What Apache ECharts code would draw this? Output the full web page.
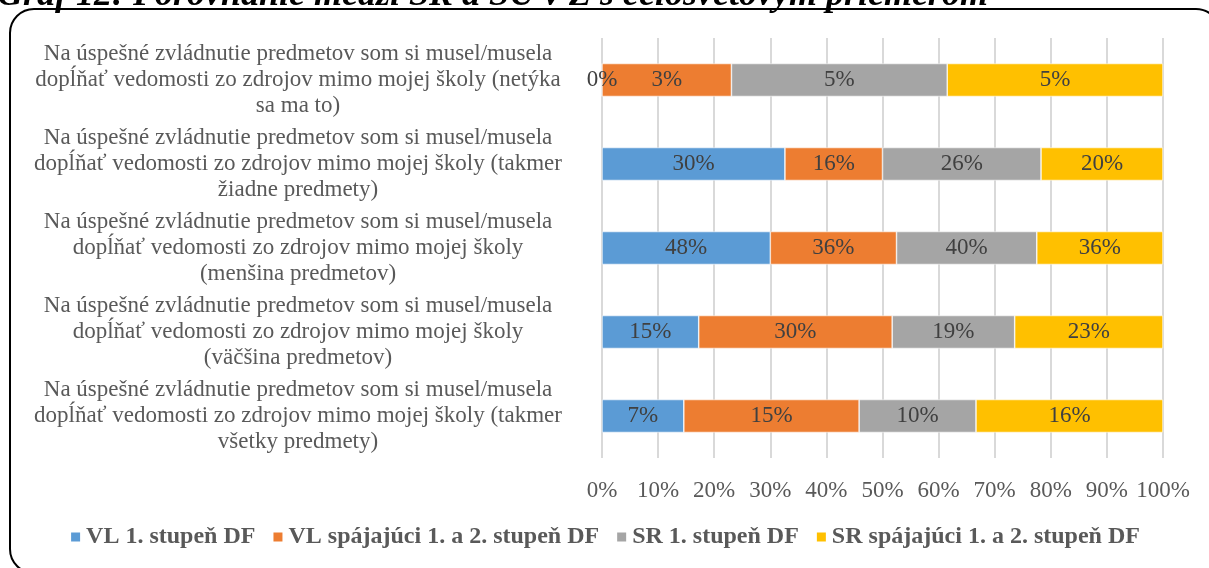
<!DOCTYPE html>
<html>
<head>
<meta charset="utf-8">
<script src="https://cdn.jsdelivr.net/npm/echarts@6/dist/echarts.min.js"></script>
<style>
  html, body { margin: 0; padding: 0; background: #fff; }
  #chart { width: 1209px; height: 568px; }
</style>
</head>
<body>
<div id="chart"></div>
<script>
const categories = [
  'Na úspešné zvládnutie predmetov som si musel/musela\ndopĺňať vedomosti zo zdrojov mimo mojej školy (netýka\nsa ma to)',
  'Na úspešné zvládnutie predmetov som si musel/musela\ndopĺňať vedomosti zo zdrojov mimo mojej školy (takmer\nžiadne predmety)',
  'Na úspešné zvládnutie predmetov som si musel/musela\ndopĺňať vedomosti zo zdrojov mimo mojej školy\n(menšina predmetov)',
  'Na úspešné zvládnutie predmetov som si musel/musela\ndopĺňať vedomosti zo zdrojov mimo mojej školy\n(väčšina predmetov)',
  'Na úspešné zvládnutie predmetov som si musel/musela\ndopĺňať vedomosti zo zdrojov mimo mojej školy (takmer\nvšetky predmety)'
]
const seriesNames = ['VL 1. stupeň DF', 'VL spájajúci 1. a 2. stupeň DF', 'SR 1. stupeň DF', 'SR spájajúci 1. a 2. stupeň DF']
const vl1 = [0, 30, 48, 15, 7]
const vlSp = [3, 16, 36, 30, 15]
const sr1 = [5, 26, 40, 19, 10]
const srSp = [5, 20, 36, 23, 16]
const xTicks = [0, 10, 20, 30, 40, 50, 60, 70, 80, 90, 100]
const colors = ['#5B9BD5', '#ED7D31', '#A5A5A5', '#FFC000']
const titleText = 'Graf 12: Porovnanie medzi SR a SU v Z s celosvetovým priemerom'

const raw = [vl1, vlSp, sr1, srSp]
// 100% stacked: each bar is the share of the row total, label keeps the raw value
const totals = categories.map((_, i) => raw.reduce((s, arr) => s + arr[i], 0))

const serif = '"Liberation Serif", "Times New Roman", serif'

const chart = echarts.init(document.getElementById('chart'))
chart.setOption({
  backgroundColor: '#fff',
  animation: false,
  graphic: [
    {
      type: 'rect',
      shape: { x: 10, y: 9, width: 1210, height: 564, r: 24 },
      style: { fill: 'none', stroke: '#000', lineWidth: 2 },
      z: 0
    },
    {
      type: 'text',
      x: -3,
      y: 14,
      style: {
        text: titleText,
        font: 'italic bold 36px ' + serif,
        fill: '#000',
        verticalAlign: 'bottom'
      }
    }
  ],
  grid: { left: 602, right: 46, top: 38, bottom: 110 },
  legend: {
    bottom: 14,
    left: 'center',
    itemWidth: 11,
    itemHeight: 11,
    itemGap: 16,
    icon: 'rect',
    textStyle: { fontFamily: serif, fontSize: 24, fontWeight: 'bold', color: '#595959' },
    data: seriesNames
  },
  xAxis: {
    type: 'value',
    min: 0,
    max: 100,
    interval: 10,
    axisLine: { show: false },
    axisTick: { show: false },
    axisLabel: {
      formatter: v => xTicks.includes(v) ? v + '%' : '',
      fontFamily: serif,
      fontSize: 23,
      color: '#595959',
      margin: 21
    },
    splitLine: { show: true, lineStyle: { color: '#D9D9D9', width: 2 } }
  },
  yAxis: {
    type: 'category',
    inverse: true,
    data: categories,
    axisLine: { show: false },
    axisTick: { show: false },
    axisLabel: {
      align: 'center',
      margin: 304,
      fontFamily: serif,
      fontSize: 23,
      lineHeight: 26,
      color: '#595959'
    }
  },
  series: raw.map((arr, k) => ({
    name: seriesNames[k],
    type: 'bar',
    stack: 'total',
    barWidth: 33,
    itemStyle: { color: colors[k], borderColor: '#fff', borderWidth: 0.6 },
    label: {
      show: true,
      position: 'inside',
      fontFamily: serif,
      fontSize: 23,
      color: '#404040',
      formatter: p => raw[k][p.dataIndex] + '%'
    },
    data: arr.map((v, i) => v / totals[i] * 100)
  }))
})
</script>
</body>
</html>
